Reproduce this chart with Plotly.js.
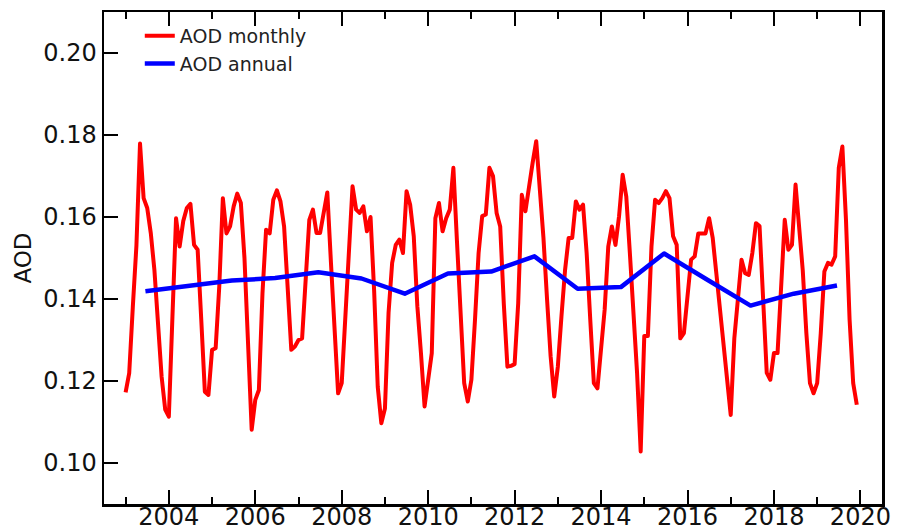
<!DOCTYPE html>
<html>
<head>
<meta charset="utf-8">
<script src="https://cdn.plot.ly/plotly-3.0.1.min.js"></script>
<style>
html,body{margin:0;padding:0;background:#fff;}
#chart{width:907px;height:531px;}
.scatterlayer path.js-line{stroke-linejoin:round;stroke-linecap:butt;}
</style>
</head>
<body>
<div id="chart"></div>
<script>
// Years covered by the record (monthly data Jan 2003 - Dec 2019)
const years = [2003,2004,2005,2006,2007,2008,2009,2010,2011,2012,2013,2014,2015,2016,2017,2018,2019];

// Monthly AOD, 12 values per year (Jan..Dec)
const aodMonthly = [
  0.1172,0.1219,0.1380,0.1530,0.1779,0.1646,0.1622,0.1560,0.1470,0.1330,0.1210,0.1130, // 2003
  0.1113,0.1357,0.1597,0.1528,0.1590,0.1622,0.1632,0.1532,0.1520,0.1350,0.1174,0.1166, // 2004
  0.1276,0.1280,0.1430,0.1646,0.1560,0.1577,0.1626,0.1657,0.1634,0.1500,0.1280,0.1081, // 2005
  0.1154,0.1178,0.1414,0.1569,0.1560,0.1642,0.1665,0.1638,0.1577,0.1430,0.1276,0.1284, // 2006
  0.1300,0.1304,0.1470,0.1593,0.1618,0.1561,0.1561,0.1614,0.1660,0.1490,0.1317,0.1170, // 2007
  0.1195,0.1349,0.1510,0.1675,0.1618,0.1610,0.1626,0.1565,0.1600,0.1420,0.1186,0.1097, // 2008
  0.1133,0.1366,0.1488,0.1532,0.1545,0.1512,0.1663,0.1630,0.1553,0.1382,0.1268,0.1138, // 2009
  0.1203,0.1268,0.1597,0.1634,0.1565,0.1597,0.1618,0.1720,0.1540,0.1341,0.1195,0.1150, // 2010
  0.1203,0.1349,0.1512,0.1602,0.1606,0.1720,0.1700,0.1610,0.1577,0.1388,0.1235,0.1237, // 2011
  0.1241,0.1390,0.1654,0.1614,0.1679,0.1732,0.1785,0.1680,0.1550,0.1400,0.1260,0.1162, // 2012
  0.1235,0.1357,0.1470,0.1549,0.1549,0.1638,0.1618,0.1630,0.1512,0.1350,0.1195,0.1182, // 2013
  0.1276,0.1374,0.1528,0.1577,0.1532,0.1602,0.1703,0.1650,0.1512,0.1380,0.1220,0.1028, // 2014
  0.1310,0.1310,0.1528,0.1642,0.1634,0.1646,0.1663,0.1646,0.1553,0.1532,0.1304,0.1317, // 2015
  0.1400,0.1496,0.1504,0.1560,0.1560,0.1560,0.1597,0.1549,0.1463,0.1374,0.1284,0.1203, // 2016
  0.1117,0.1304,0.1400,0.1496,0.1463,0.1459,0.1512,0.1585,0.1578,0.1382,0.1220,0.1203, // 2017
  0.1268,0.1268,0.1447,0.1593,0.1520,0.1532,0.1679,0.1577,0.1470,0.1317,0.1195,0.1170, // 2018
  0.1195,0.1317,0.1467,0.1488,0.1484,0.1504,0.1720,0.1772,0.1593,0.1350,0.1195,0.1142  // 2019
];

// Annual mean AOD, one per year
const aodAnnual = [0.1419,0.1432,0.1445,0.1451,0.1465,0.1450,0.1413,0.1462,0.1467,0.1504,0.1425,0.1429,0.1511,0.1447,0.1384,0.1413,0.1433];

// Axis ticks
const xTickVals = [2004,2006,2008,2010,2012,2014,2016,2018,2020];
const yTickVals = [0.10,0.12,0.14,0.16,0.18,0.20];
const yTickText = ['0.10','0.12','0.14','0.16','0.18','0.20'];

// time coordinates (decimal years) derived from the year/month categories
const xMonthly = [];
years.forEach(function(y){ for (let m = 0; m < 12; m++) xMonthly.push(y + m/12); });
const xAnnual = years.map(function(y){ return y + 5.5/12; });

const traces = [
  {x: xMonthly, y: aodMonthly, type:'scatter', mode:'lines', name:'AOD monthly',
   line:{color:'#ff0000', width:4}},
  {x: xAnnual, y: aodAnnual, type:'scatter', mode:'lines', name:'AOD annual',
   line:{color:'#0000ff', width:4.5}}
];

const layout = {
  width: 907, height: 531,
  margin: {l:104, r:25, t:12, b:27, pad:0},
  paper_bgcolor:'#ffffff', plot_bgcolor:'#ffffff',
  font: {family:'DejaVu Sans, sans-serif', color:'#000000'},
  showlegend: true,
  legend: {x:0.046, y:0.99, xanchor:'left', yanchor:'top', bgcolor:'rgba(0,0,0,0)',
           borderwidth:0, font:{size:19, color:'#222'}, tracegroupgap:0},
  xaxis: {
    range:[2002.5, 2020.5], tickmode:'array', tickvals: xTickVals, ticktext: xTickVals.map(String),
    ticks:'inside', ticklen:14, tickwidth:2, tickcolor:'#000',
    showline:true, linewidth:2.5, linecolor:'#000', mirror:'ticks',
    showgrid:false, zeroline:false, tickfont:{size:24, color:'#111'},
    ticklabelstandoff:-10,
    minor:{tickmode:'linear', tick0:2003, dtick:1, ticks:'inside', ticklen:7, tickwidth:2, tickcolor:'#000', showgrid:false}
  },
  yaxis: {
    range:[0.09, 0.21], tickmode:'array', tickvals: yTickVals, ticktext: yTickText,
    ticks:'inside', ticklen:14, tickwidth:2, tickcolor:'#000',
    showline:true, linewidth:2.5, linecolor:'#000', mirror:true,
    showgrid:false, zeroline:false, tickfont:{size:24, color:'#111'},
    title:{text:'AOD', font:{size:23, color:'#111'}, standoff:5}
  }
};

Plotly.newPlot('chart', traces, layout, {displayModeBar:false, staticPlot:true});
</script>
</body>
</html>
